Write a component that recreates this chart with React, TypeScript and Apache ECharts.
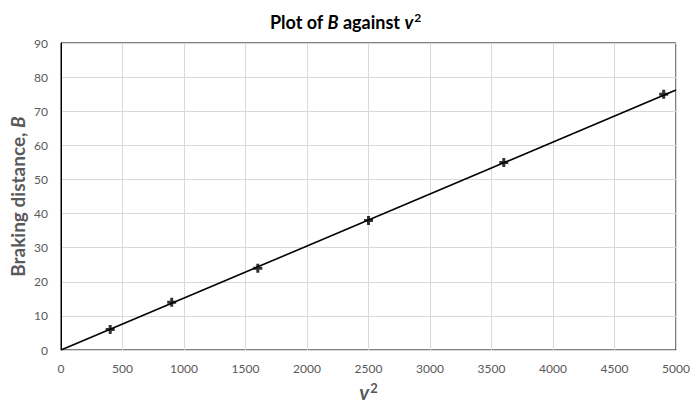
import React, { useEffect, useRef } from "react";
import * as echarts from "echarts";

const vSquared = [400, 900, 1600, 2500, 3600, 4900];
const brakingDistance = [6, 14, 24, 38, 55, 75];
const trendX = [0, 5000];
const trendY = [0, 76.2];

const FONT = "Lato, 'Open Sans', sans-serif";

export default function App() {
  const ref = useRef<HTMLDivElement>(null);
  useEffect(() => {
    if (!ref.current) return;
    const chart = echarts.init(ref.current, undefined, { renderer: "svg" });
    chart.setOption({
      animation: false,
      backgroundColor: "#fff",
      title: {
        text: "{n|Plot of }{i|B}{n| against }{i|v}{s|2}",
        left: "center",
        top: 6,
        textStyle: {
          rich: {
            n: { fontFamily: FONT, fontWeight: "bold", fontSize: 18, color: "#000", lineHeight: 22 },
            i: { fontFamily: FONT, fontWeight: "bold", fontStyle: "italic", fontSize: 18, color: "#000", lineHeight: 22 },
            s: { fontFamily: FONT, fontWeight: "bold", fontSize: 12, color: "#000", verticalAlign: "top", lineHeight: 22, padding: [0, 0, 0, 1] },
          },
        },
      },
      grid: {
        left: 61,
        right: 15,
        top: 43,
        bottom: 55,
        show: true,
        borderColor: "#000",
        borderWidth: 1,
        outerBoundsMode: "none",
        containLabel: false,
      },
      xAxis: {
        type: "value",
        min: 0,
        max: 5000,
        interval: 500,
        name: "{i|v}{s|2}",
        nameLocation: "middle",
        nameGap: 31,
        nameMoveOverlap: false,
        nameTextStyle: {
          rich: {
            i: { fontFamily: FONT, fontWeight: "bold", fontStyle: "italic", fontSize: 20, color: "#595959", lineHeight: 22 },
            s: { fontFamily: FONT, fontWeight: "bold", fontSize: 13, color: "#595959", verticalAlign: "top", lineHeight: 22, padding: [0, 0, 0, 1] },
          },
        },
        axisLine: { lineStyle: { color: "#d9d9d9", width: 1 } },
        axisTick: { show: false },
        axisLabel: {
          color: "#595959",
          fontFamily: FONT,
          fontSize: 12,
          margin: 12,
          formatter: (v: number) => String(v),
        },
        splitLine: { lineStyle: { color: "#d9d9d9", width: 1 } },
      },
      yAxis: {
        type: "value",
        min: 0,
        max: 90,
        interval: 10,
        name: "{n|Braking distance, }{i|B}",
        nameLocation: "middle",
        nameRotate: 90,
        nameGap: 34,
        nameMoveOverlap: false,
        nameTextStyle: {
          rich: {
            n: { fontFamily: FONT, fontWeight: "bold", fontSize: 19, color: "#595959" },
            i: { fontFamily: FONT, fontWeight: "bold", fontStyle: "italic", fontSize: 19, color: "#595959" },
          },
        },
        axisLine: { show: true, lineStyle: { color: "#000", width: 1 } },
        axisTick: { show: false },
        axisLabel: { color: "#595959", fontFamily: FONT, fontSize: 12, margin: 13 },
        splitLine: { lineStyle: { color: "#d9d9d9", width: 1 } },
      },
      series: [
        {
          type: "line",
          data: trendX.map((x, i) => [x, trendY[i]]),
          showSymbol: false,
          symbol: "none",
          lineStyle: { color: "#000", width: 1.6 },
          z: 2,
        },
        {
          type: "scatter",
          data: vSquared.map((x, i) => [x, brakingDistance[i]]),
          symbol: "path://M3,0 H6 V3 H9 V6 H6 V9 H3 V6 H0 V3 H3 Z",
          symbolSize: 9,
          itemStyle: { color: "#000" },
          z: 3,
        },
      ],
    });
    return () => chart.dispose();
  }, []);
  return <div ref={ref} style={{ width: 691, height: 405, position: "absolute", left: 0, top: 0 }} />;
}
